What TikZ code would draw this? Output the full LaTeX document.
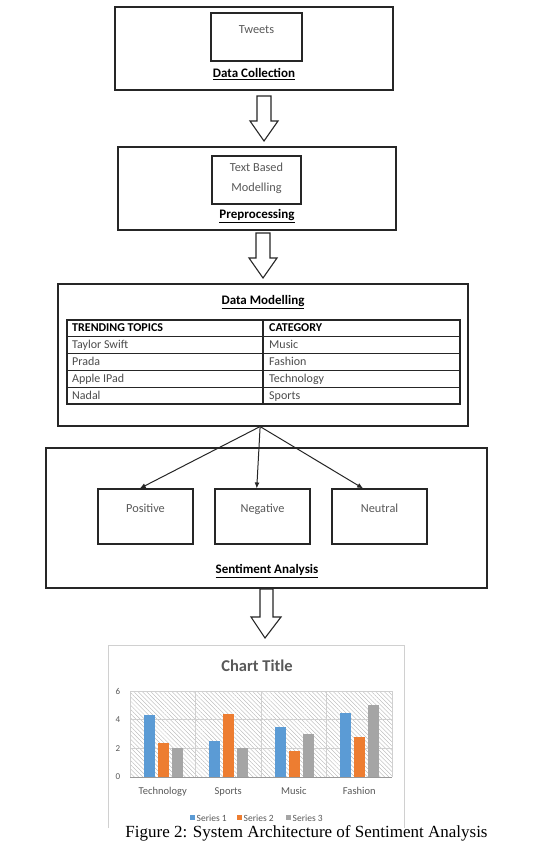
\documentclass[tikz,border=0pt]{standalone}
\usepackage{fontspec}
\setmainfont{Carlito}
\newfontfamily\capfont{Liberation Serif}
\usetikzlibrary{patterns.meta,calc,arrows.meta}
\definecolor{sone}{HTML}{5B9BD5}
\definecolor{stwo}{HTML}{ED7D31}
\definecolor{sthree}{HTML}{A5A5A5}
\definecolor{linecol}{HTML}{262626}
\definecolor{txtgray}{HTML}{595959}
\definecolor{gridcol}{HTML}{D0D0D0}
\tikzset{
  outerbox/.style={draw=linecol, line width=1.1pt, inner sep=0pt},
  innerbox/.style={draw=linecol, line width=1.1pt, inner sep=0pt},
  heading/.style={font=\fontsize{13}{15}\selectfont\bfseries, text=black, inner sep=0pt},
  boxtext/.style={font=\fontsize{12.3}{20}\selectfont, text=txtgray, inner sep=0pt, align=center, text height=8.5pt, text depth=2.5pt},
  multitext/.style={font=\fontsize{12.3}{20}\selectfont, text=txtgray, inner sep=0pt, align=center},
  celltext/.style={font=\fontsize{12}{14}\selectfont, text=black!70, inner sep=0pt, anchor=west, text height=8.5pt, text depth=2.5pt},
  cellhead/.style={font=\fontsize{12}{14}\selectfont\bfseries, text=black, inner sep=0pt, anchor=west, text height=8.5pt, text depth=2.5pt},
  hollowarrow/.style={draw=linecol, line width=1.1pt, fill=white, line join=miter},
  branch/.style={draw=linecol, line width=1pt, -{Latex[length=6pt,width=5pt]}},
  ticklabel/.style={font=\fontsize{9}{11}\selectfont, text=txtgray, inner sep=0pt},
  catlabel/.style={font=\fontsize{10.5}{12}\selectfont, text=txtgray, inner sep=0pt, text height=7.5pt, text depth=2pt},
  legendtext/.style={font=\fontsize{9.5}{11}\selectfont, text=txtgray, inner sep=0pt, anchor=west},
}
\begin{document}
\begin{tikzpicture}[x=1pt,y=-1pt]
\useasboundingbox (0,0) rectangle (537,859);
\fill[white] (0,0) rectangle (537,859);

% ---- Data Collection
\node[outerbox, minimum width=278, minimum height=83] (dc) at (254,48.5) {};
\node[innerbox, minimum width=91, minimum height=48] (tw) at (256.5,37) {};
\node[boxtext] (twt) at (256.5,31) {Tweets};
\node[heading] (dct) at (254,74) {\underline{Data Collection}};

% arrow 1
\draw[hollowarrow] (257,96) -- (271,96) -- (271,121) -- (278,121) -- (264,141) -- (250,121) -- (257,121) -- cycle;

% ---- Preprocessing
\node[outerbox, minimum width=278, minimum height=83] (pp) at (257,188.5) {};
\node[innerbox, minimum width=89, minimum height=48] (tb) at (256.5,180) {};
\node[multitext] (tbt) at (256.5,178) {Text Based\\Modelling};
\node[heading] (ppt) at (257,216) {\underline{Preprocessing}};

% arrow 2
\draw[hollowarrow] (256,233) -- (270,233) -- (270,258) -- (277,258) -- (263,278) -- (249,258) -- (256,258) -- cycle;

% ---- Data Modelling
\node[outerbox, minimum width=410, minimum height=142] (dm) at (263,355) {};
\node[heading] (dmt) at (263,302) {\underline{Data Modelling}};
\node[draw=linecol, line width=1.1pt, minimum width=393, minimum height=84, inner sep=0pt] (tbl) at (263.5,362) {};
\draw[linecol, line width=1.1pt] (263,320) -- (263,404);
\foreach \yy in {336.8,353.6,370.4,387.2} {\draw[linecol, line width=1.1pt] (67,\yy) -- (460,\yy);}
\node[cellhead] (h1) at (72,328.9) {TRENDING TOPICS};
\node[cellhead] (h2) at (269,328.9) {CATEGORY};
\node[celltext] (r1a) at (72,345.7) {Taylor Swift};
\node[celltext] (r1b) at (269,345.7) {Music};
\node[celltext] (r2a) at (72,362.5) {Prada};
\node[celltext] (r2b) at (269,362.5) {Fashion};
\node[celltext] (r3a) at (72,379.3) {Apple IPad};
\node[celltext] (r3b) at (269,379.3) {Technology};
\node[celltext] (r4a) at (72,396.1) {Nadal};
\node[celltext] (r4b) at (269,396.1) {Sports};

% ---- Sentiment Analysis
\node[outerbox, minimum width=441, minimum height=140] (sa) at (266.5,518) {};
\node[innerbox, minimum width=95, minimum height=55] (pos) at (145.5,516.5) {};
\node[innerbox, minimum width=95, minimum height=55] (neg) at (262.5,516.5) {};
\node[innerbox, minimum width=95, minimum height=55] (neu) at (379.5,516.5) {};
\node[boxtext] (post) at (145.5,509) {Positive};
\node[boxtext] (negt) at (262.5,509) {Negative};
\node[boxtext] (neut) at (379.5,509) {Neutral};
\node[heading] (sat) at (267,571) {\underline{Sentiment Analysis}};

\coordinate (src) at ($(dm.south west)!0.493!(dm.south east)$);
\draw[branch] (src) -- ($(pos.north west)!0.44!(pos.north east)$);
\draw[branch] (src) -- ($(neg.north west)!0.44!(neg.north east)$);
\draw[branch] (src) -- ($(neu.north west)!0.33!(neu.north east)$);

% arrow 3
\draw[hollowarrow] (260,589) -- (273,589) -- (273,617) -- (281,617) -- (265,638) -- (251,617) -- (260,617) -- cycle;

% ---- Chart
\draw[gridcol, line width=0.8pt] (108,828) -- (108,645) -- (404,645) -- (404,828);
\node[font=\fontsize{16.5}{18}\selectfont\bfseries, text=txtgray, inner sep=0pt] (ct) at (257,666) {Chart Title};
\fill[pattern={Lines[angle=-45,distance=3pt,line width=0.35pt]}, pattern color=black!30] (130,691) rectangle (392,777);
\foreach \yy in {691,719.67,748.33} {\draw[gridcol, line width=0.7pt] (130,\yy) -- (392,\yy);}
\foreach \xx in {130,195.5,261,326.5,392} {\draw[gridcol, line width=0.7pt] (\xx,691) -- (\xx,777);}
\draw[black!40, line width=0.7pt] (130,777) -- (392,777);
\foreach \v [count=\i from 0] in {4.3,2.5,3.5,4.5} {\fill[sone] ({130+65.5*\i+13.5},777) rectangle ({130+65.5*\i+24.5},{777-14.333*\v});}
\foreach \v [count=\i from 0] in {2.4,4.4,1.8,2.8} {\fill[stwo] ({130+65.5*\i+27.5},777) rectangle ({130+65.5*\i+38.5},{777-14.333*\v});}
\foreach \v [count=\i from 0] in {2,2,3,5} {\fill[sthree] ({130+65.5*\i+41.5},777) rectangle ({130+65.5*\i+52.5},{777-14.333*\v});}
\node[ticklabel] (t6) at (118,691) {6};
\node[ticklabel] (t4) at (118,719.67) {4};
\node[ticklabel] (t2) at (118,748.33) {2};
\node[ticklabel] (t0) at (118,777) {0};
\node[catlabel] (c1) at (162.75,792) {Technology};
\node[catlabel] (c2) at (228.25,792) {Sports};
\node[catlabel] (c3) at (293.75,792) {Music};
\node[catlabel] (c4) at (359.25,792) {Fashion};
\fill[sone] (190,815) rectangle (195,820);
\node[legendtext] (l1) at (196.5,818) {Series 1};
\fill[stwo] (237,815) rectangle (242,820);
\node[legendtext] (l2) at (243.5,818) {Series 2};
\fill[sthree] (286,815) rectangle (291,820);
\node[legendtext] (l3) at (292.5,818) {Series 3};

% caption
\node[font=\capfont\fontsize{17}{19}\selectfont, inner sep=0pt] (cap) at (306.5,833) {Figure 2: System Architecture of Sentiment Analysis};
\end{tikzpicture}
\end{document}
